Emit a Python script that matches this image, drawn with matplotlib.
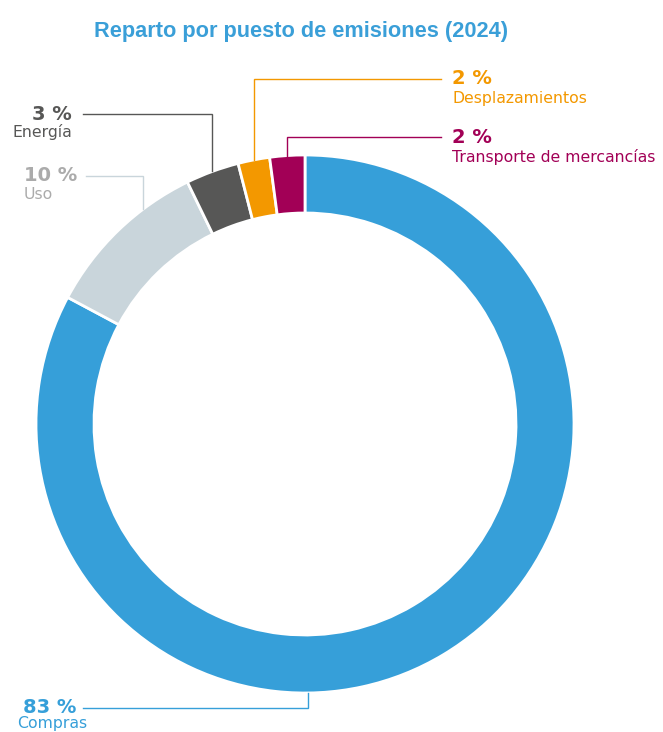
import matplotlib
matplotlib.use("Agg")
import numpy as np
import matplotlib.pyplot as plt

W, H = 663, 732

# datos (porcentaje por puesto, sentido horario desde arriba)
categorias = ["Compras", "Uso", "Energía", "Desplazamientos", "Transporte de mercancías"]
valores = [82.8, 10.0, 3.2, 1.9, 2.1]
colores = ["#369fd9", "#c9d5db", "#575756", "#f39800", "#a20056"]
colores_texto = ["#369fd9", "#ababab", "#575756", "#f39800", "#a20056"]
colores_linea = ["#369fd9", "#c9d5db", "#575756", "#f39800", "#a20056"]

# posición de etiquetas (coordenadas de imagen, y hacia abajo)
anclaje = [0.602, 0.69, 0.5, 0.5, 0.5]       # fracción dentro del sector
nivel_linea = [708, 176, 114, 79, 137]
fin_linea = [83, 86, 83, 441, 441]
pct_xy = [(23, 713), (24, 181), (72, 120), (452, 84), (452, 143)]
nom_xy = [(17, 728), (24, 199), (72, 137), (452, 103), (452, 162)]
alinear = ["left", "left", "right", "left", "left"]

cx, cy, R, ancho = 305, H - 424, 269, 58

fig = plt.figure(figsize=(W / 100, H / 100), dpi=100)
ax = fig.add_axes([0, 0, 1, 1])

wedges, _ = ax.pie(valores, colors=colores, startangle=90, counterclock=False,
                   radius=R, center=(cx, cy),
                   wedgeprops=dict(width=ancho, edgecolor="white", linewidth=2))
ax.set_xlim(0, W)
ax.set_ylim(0, H)
ax.set_aspect("equal")
ax.axis("off")

for i, w in enumerate(wedges):
    ang = np.deg2rad(w.theta2 - anclaje[i] * (w.theta2 - w.theta1))
    x0 = cx + R * np.cos(ang)
    y0 = cy + R * np.sin(ang)
    yl = H - nivel_linea[i]
    ax.plot([x0, x0, fin_linea[i]], [y0, yl, yl], color=colores_linea[i], lw=1.0,
            solid_joinstyle="miter", zorder=1)
    ax.text(pct_xy[i][0], H - pct_xy[i][1], f"{round(valores[i])} %", ha=alinear[i],
            va="baseline", fontsize=14, fontweight="bold", color=colores_texto[i],
            family="DejaVu Sans")
    ax.text(nom_xy[i][0], H - nom_xy[i][1], categorias[i], ha=alinear[i],
            va="baseline", fontsize=11.3, color=colores_texto[i], family="DejaVu Sans")

ax.text(301, H - 37, "Reparto por puesto de emisiones (2024)", ha="center", va="baseline",
        fontsize=15.7, fontweight="bold", color="#3a9fd8",
        family=["Liberation Sans", "DejaVu Sans"])

fig.savefig("out.png", dpi=100, facecolor="white")
